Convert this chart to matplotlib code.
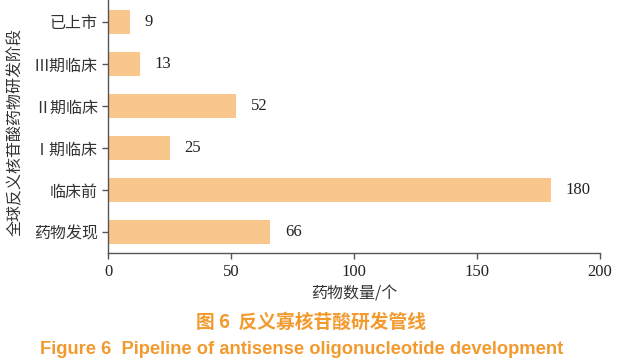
"""Antisense oligonucleotide pipeline - horizontal bar chart"""
import matplotlib
matplotlib.use('Agg')
import matplotlib.pyplot as plt

# Datos
stages = ["药物发现", "临床前", "Ⅰ期临床", "Ⅱ期临床", "Ⅲ期临床", "已上市"]
counts = [66, 180, 25, 52, 13, 9]
xticks = [0, 50, 100, 150, 200]

bar_color = '#F9C78C'
axis_color = '#555555'
title_color = '#F39A2F'
cjk = ['Noto Sans CJK SC', 'DejaVu Sans']
serif = ['Liberation Serif', 'Noto Sans CJK SC']

fig = plt.figure(figsize=(6.22, 3.64), dpi=100)
ax = fig.add_axes([108 / 622, 1 - 253 / 364, 492 / 622, 253 / 364])

pos = range(len(stages))
ax.barh(pos, counts, height=0.57, color=bar_color)
for p, c in zip(pos, counts):
    ax.text(c + 6, p, str(c), va='center', ha='left', fontsize=12,
            family=serif, color='#222222')

ax.set_xlim(0, 200)
ax.set_ylim(-0.5, 5.52)
ax.set_xticks(xticks)
ax.set_xticklabels([str(t) for t in xticks], family=serif, fontsize=12,
                   color='#222222')
ax.set_yticks(list(pos))
ax.set_yticklabels(stages, family=cjk, fontsize=11.5, color='#333333',
                   fontweight='light')

for side in ['top', 'right']:
    ax.spines[side].set_visible(False)
for side in ['left', 'bottom']:
    ax.spines[side].set_color(axis_color)
    ax.spines[side].set_linewidth(1.0)
ax.tick_params(axis='both', colors=axis_color, length=4.3, width=1.0)
ax.tick_params(axis='x', labelcolor='#222222', pad=3.5)
ax.tick_params(axis='y', labelcolor='#333333', pad=3)

ax.set_xlabel('药物数量/个', family=cjk, fontsize=11.5, color='#333333',
              fontweight='light', labelpad=4)
fig.text(15 / 622, 1 - 132 / 364, '全球反义核苷酸药物研发阶段', rotation=90,
         ha='center', va='center', family=cjk, fontsize=11.5, color='#333333',
         fontweight='light')

# Titulos
fig.text(0.5, 1 - 322.5 / 364, '图 6  反义寡核苷酸研发管线', ha='center',
         va='center', family=cjk, fontsize=13.5, fontweight='bold',
         color=title_color)
fig.text(0.485, 1 - 350 / 364, 'Figure 6  Pipeline of antisense oligonucleotide development',
         ha='center', va='center', family=['Liberation Sans', 'DejaVu Sans'],
         fontsize=13.2, fontweight='bold', color=title_color)

fig.savefig('out.png', dpi=100)
